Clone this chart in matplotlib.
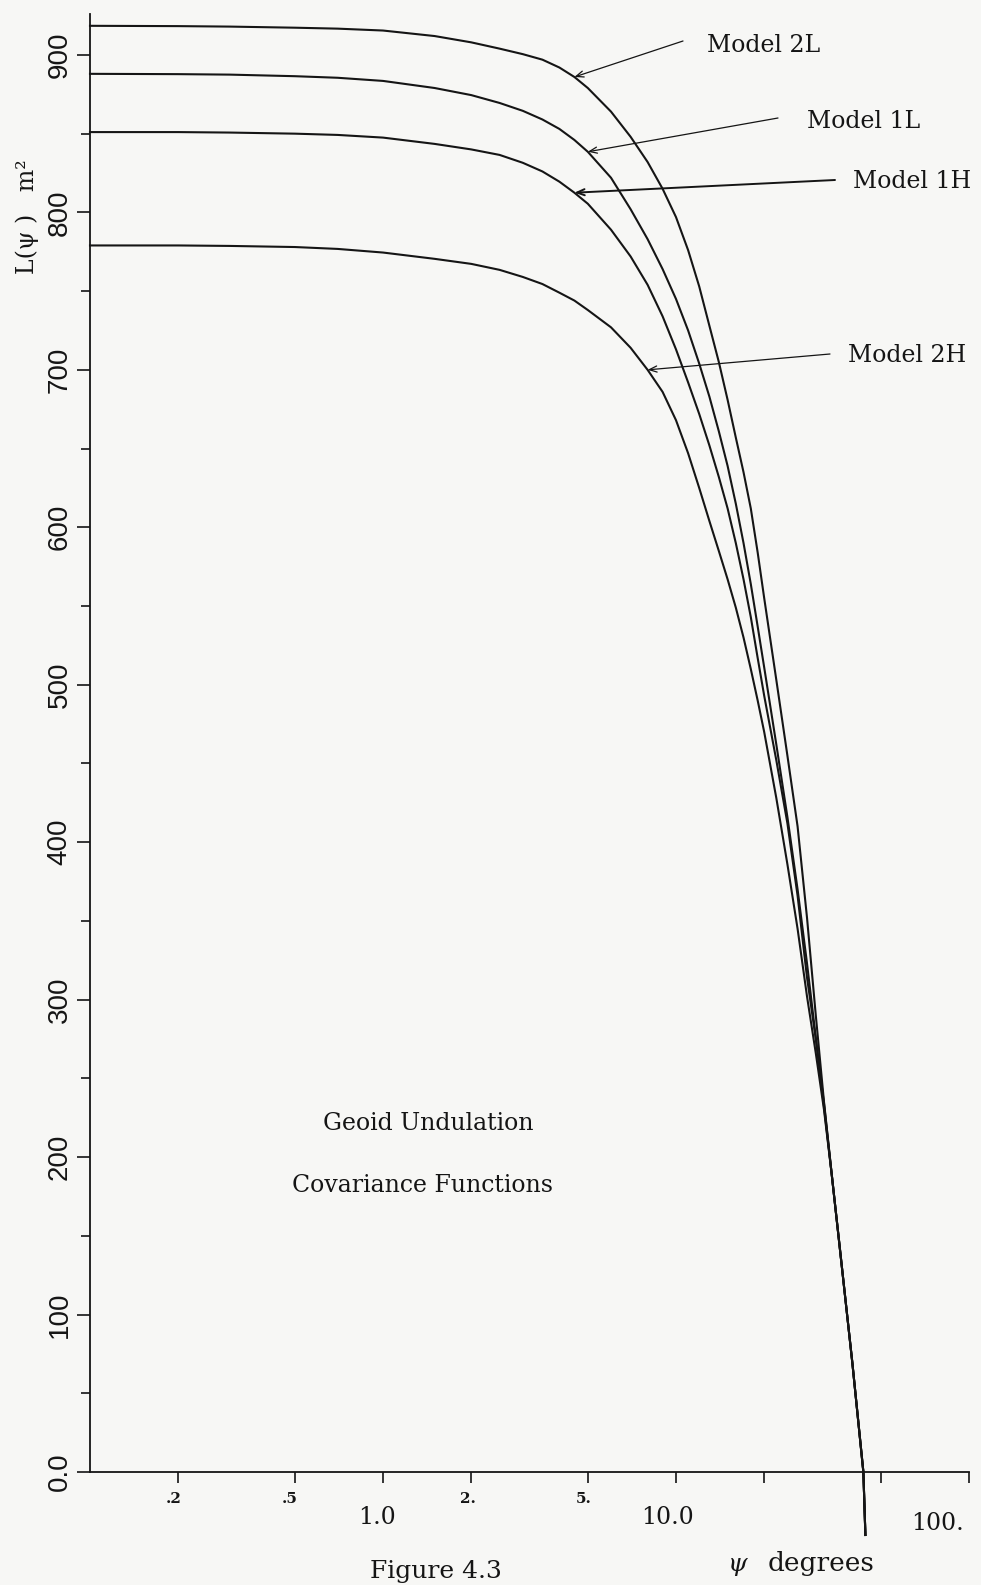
import numpy as np
import matplotlib
matplotlib.use("Agg")
import matplotlib.pyplot as plt
from matplotlib.ticker import MultipleLocator, NullLocator

# values (psi in degrees, L in m^2)
psi_2L = [0.1, 0.2, 0.3, 0.5, 0.7, 1.0, 1.5, 2.0, 2.5, 3.0, 3.5, 4.0, 4.5, 5.0, 6.0, 7.0, 8.0, 9.0, 10, 11, 12, 13, 14, 15, 16, 17, 18, 19, 20, 22, 24, 26, 28, 30, 32, 34, 36, 38, 40, 43.6, 44.3]
L_2L = [918.5, 918.3, 918, 917.3, 916.7, 915.5, 912, 908, 904, 900.5, 897, 892, 886, 879, 864, 848, 832, 815, 797, 776, 753, 728, 705, 681, 657, 635, 612, 584, 555, 503, 455, 410, 352, 290, 235, 189, 147, 107, 69, 0, -40]

psi_1L = [0.1, 0.2, 0.3, 0.5, 0.7, 1.0, 1.5, 2.0, 2.5, 3.0, 3.5, 4.0, 4.5, 5.0, 6.0, 7.0, 8.0, 9.0, 10, 11, 12, 13, 14, 15, 16, 17, 18, 19, 20, 22, 24, 26, 28, 30, 32, 34, 36, 38, 40, 43.6, 44.3]
L_1L = [888, 887.8, 887.5, 886.5, 885.5, 883.5, 879, 874.5, 869.5, 864.5, 859, 853, 846, 838.5, 822, 802, 783, 764, 745, 725, 704, 683, 661, 639, 615, 590, 564, 537, 511, 462, 416, 370, 323, 276, 232, 189, 147, 107, 69, 0, -40]

psi_1H = [0.1, 0.2, 0.3, 0.5, 0.7, 1.0, 1.5, 2.0, 2.5, 3.0, 3.5, 4.0, 4.5, 5.0, 6.0, 7.0, 8.0, 9.0, 10, 11, 12, 13, 14, 15, 16, 17, 18, 19, 20, 22, 24, 26, 28, 30, 32, 34, 36, 38, 40, 43.6, 44.3]
L_1H = [851, 851, 850.7, 850, 849.2, 847.5, 843.5, 840, 836.5, 831.5, 826, 819.5, 812.5, 805.5, 789, 772, 754, 734, 713, 692, 672, 652, 632, 612, 590, 567, 543, 517, 493, 452, 412, 366, 314, 275, 234, 189, 147, 107, 69, 0, -40]

psi_2H = [0.1, 0.2, 0.3, 0.5, 0.7, 1.0, 1.5, 2.0, 2.5, 3.0, 3.5, 4.0, 4.5, 5.0, 6.0, 7.0, 8.0, 9.0, 10, 11, 12, 13, 14, 15, 16, 17, 18, 19, 20, 22, 24, 26, 28, 30, 32, 34, 36, 38, 40, 43.6, 44.3]
L_2H = [779, 779, 778.7, 778, 776.8, 774.5, 770.5, 767.3, 763.5, 759, 754.5, 749, 744, 738, 727, 714, 700, 686, 668, 647, 625, 604, 585, 567, 549, 530, 510, 490, 470, 428, 386, 345, 302, 266, 230, 189, 147, 107, 69, 0, -40]

model_names = ["Model 2L", "Model 1L", "Model 1H", "Model 2H"]

y_ticks = [0, 100, 200, 300, 400, 500, 600, 700, 800, 900]
y_ticklabels = ["0.0", "100", "200", "300", "400", "500", "600", "700", "800", "900"]
x_ticks = [0.2, 0.5, 1, 2, 5, 10, 20, 50, 100]
x_small_labels = [".2", ".5", "2.", "5."]
x_small_pos = [0.2, 0.5, 2, 5]
x_big_labels = ["1.0", "10.0", "100."]
x_big_pos = [1, 10, 100]

W, H = 981, 1585
bg = "#f7f7f5"
ink = "#151515"
serif = ["DejaVu Serif"]
narrow = ["Liberation Sans Narrow", "Liberation Sans", "DejaVu Sans"]

fig = plt.figure(figsize=(W / 100, H / 100), dpi=100, facecolor=bg)
ax = fig.add_axes([90 / W, 1 - 1472 / H, (969 - 90) / W, (1472 - 14) / H])
ax.set_facecolor(bg)

curves = [(psi_2L, L_2L), (psi_1L, L_1L), (psi_1H, L_1H), (psi_2H, L_2H)]
for ps, vals in curves:
    ax.plot(ps, vals, color=ink, lw=1.5, clip_on=False, solid_joinstyle="round")

ax.set_xscale("log")
ax.set_xlim(0.1, 100)
ax.set_ylim(0, 926)

for s in ["top", "right"]:
    ax.spines[s].set_visible(False)
for s in ["left", "bottom"]:
    ax.spines[s].set_linewidth(1.3)
    ax.spines[s].set_color(ink)

ax.set_yticks(y_ticks)
ax.set_yticklabels(y_ticklabels, family=narrow, fontsize=20, rotation=90,
                   va="center")
ax.yaxis.set_minor_locator(MultipleLocator(50))
ax.tick_params(axis="y", which="major", length=9.5, width=1.2, pad=3, colors=ink)
ax.tick_params(axis="y", which="minor", length=6.5, width=1.2, colors=ink)

ax.set_xticks(x_ticks)
ax.set_xticklabels([""] * len(x_ticks))
ax.xaxis.set_minor_locator(NullLocator())
ax.tick_params(axis="x", which="major", length=8, width=1.2, colors=ink)

# staggered tick labels as on the original plot
small_dx = [-5, -5, -3, -4]
for lab, p, dx in zip(x_small_labels, x_small_pos, small_dx):
    ax.annotate(lab, xy=(p, 0), xycoords=("data", "axes fraction"),
                xytext=(dx * 0.72, -27 * 0.72), textcoords="offset points",
                ha="center", va="center", fontsize=11, fontweight="bold",
                family=serif, color=ink, annotation_clip=False)
big_dx = [-6, -8, -32]
big_dy = [-45, -46, -52]
for lab, p, dx, dy in zip(x_big_labels, x_big_pos, big_dx, big_dy):
    ax.annotate(lab, xy=(p, 0), xycoords=("data", "axes fraction"),
                xytext=(dx * 0.72, dy * 0.72), textcoords="offset points",
                ha="center", va="center", fontsize=17, family=serif,
                color=ink, annotation_clip=False)

# model labels with arrows pointing onto the curves
tips = [(psi_2L[12], L_2L[12]), (psi_1L[13], L_1L[13]),
        (psi_1H[12], L_1H[12]), (psi_2H[16], L_2H[16])]
tails = [(683, 41), (778, 118), (835, 180), (830, 354)]
text_pos = [(707, 45), (807, 122), (853, 182), (848, 356)]
arrow_lw = [0.9, 0.9, 1.4, 0.9]
for name, tip, tail, tp, lw in zip(model_names, tips, tails, text_pos, arrow_lw):
    ax.annotate("", xy=tip, xycoords="data",
                xytext=(tail[0], H - tail[1]), textcoords="figure pixels",
                arrowprops=dict(arrowstyle="->,head_length=0.55,head_width=0.22",
                                color=ink, lw=lw, shrinkA=0, shrinkB=0))
    fig.text(tp[0] / W, 1 - tp[1] / H, name, ha="left", va="center",
             fontsize=17, family=serif, color=ink)

fig.text(428 / W, 1 - 1123 / H, "Geoid Undulation", ha="center", va="center",
         fontsize=17, family=serif, color=ink)
fig.text(422 / W, 1 - 1186 / H, "Covariance Functions", ha="center", va="center",
         fontsize=17, family=serif, color=ink)

fig.text(27 / W, 1 - 217 / H, "L(ψ )   m²", rotation=90, ha="center",
         va="center", fontsize=17, family=serif, color=ink)

fig.text(738 / W, 1 - 1564 / H, "ψ", ha="center", va="center", fontsize=18,
         family=serif, style="italic", color=ink)
fig.text(821 / W, 1 - 1564 / H, "degrees", ha="center", va="center",
         fontsize=19, family=serif, color=ink)
fig.text(370 / W, 1 - 1583 / H, "Figure 4.3", ha="left", va="bottom",
         fontsize=18, family=serif, color=ink)

fig.savefig("out.png", dpi=100, facecolor=bg)
